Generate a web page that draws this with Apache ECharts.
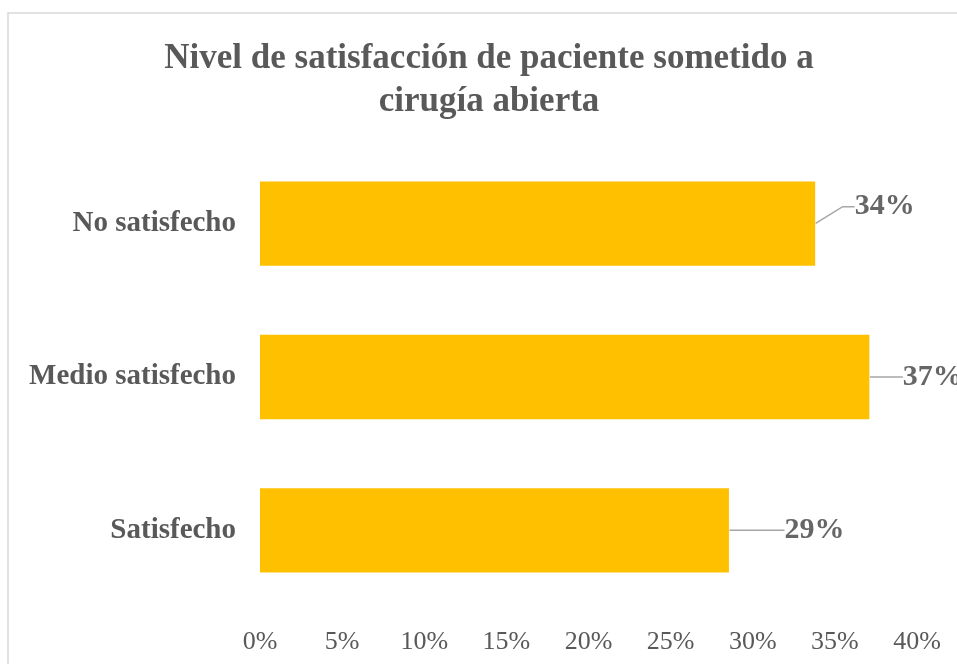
<!DOCTYPE html>
<html>
<head>
<meta charset="utf-8">
<script src="https://cdn.jsdelivr.net/npm/echarts@6/dist/echarts.min.js"></script>
<style>
  html, body { margin: 0; padding: 0; background: #fff; }
  #chart { width: 957px; height: 664px; }
</style>
</head>
<body>
<div id="chart"></div>
<script>
// datos del gráfico
const categories = ["No satisfecho", "Medio satisfecho", "Satisfecho"];
const values = [0.338, 0.371, 0.2855];
const tickMin = 0;
const tickMax = 0.4;
const tickStep = 0.05;

// desplazamiento de las etiquetas (posición, no datos)
const labelShift = [[32, -17], [26, 0], [48, 0]];

const serif = "'Liberation Serif', 'Times New Roman', serif";
const pct = v => Math.round(v * 100) + "%";

const chart = echarts.init(document.getElementById("chart"));
const option = {
  backgroundColor: "#fff",
  animation: false,
  graphic: [
    {
      type: "rect",
      shape: { x: 8, y: 13, width: 1200, height: 900 },
      style: { fill: "none", stroke: "#d9d9d9", lineWidth: 1.5 },
      silent: true
    }
  ],
  title: {
    text: "Nivel de satisfacción de paciente sometido a\ncirugía abierta",
    left: 489,
    top: 37,
    padding: 0,
    textAlign: "center",
    textStyle: {
      fontFamily: serif,
      fontWeight: "bold",
      fontSize: 35,
      lineHeight: 43,
      color: "#595959"
    }
  },
  grid: { left: 260, right: 40, top: 147, bottom: 57, containLabel: false },
  xAxis: {
    type: "value",
    min: tickMin,
    max: tickMax,
    interval: tickStep,
    axisLine: { show: false },
    axisTick: { show: false },
    splitLine: { show: false },
    axisLabel: {
      formatter: pct,
      margin: 22,
      fontFamily: serif,
      fontSize: 26,
      color: "#595959"
    }
  },
  yAxis: {
    type: "category",
    data: categories,
    inverse: true,
    axisLine: { show: false },
    axisTick: { show: false },
    axisLabel: {
      margin: 24,
      fontFamily: serif,
      fontWeight: "bold",
      fontSize: 29,
      color: "#595959"
    }
  },
  series: [
    {
      type: "bar",
      data: values,
      barCategoryGap: "45%",
      itemStyle: { color: "#FFC000" },
      silent: true
    },
    {
      // punto invisible al final de cada barra para las líneas guía
      type: "scatter",
      data: values.map((v, i) => [v, categories[i]]),
      symbol: "circle",
      symbolSize: 1,
      itemStyle: { color: "rgba(0,0,0,0)" },
      silent: true,
      label: {
        show: true,
        position: "right",
        distance: 0,
        padding: [0, 0, 0, 7],
        formatter: p => pct(p.value[0]),
        fontFamily: serif,
        fontWeight: "bold",
        fontSize: 30,
        color: "#404040"
      },
      labelLayout: p => ({ dx: labelShift[p.dataIndex][0], dy: labelShift[p.dataIndex][1] }),
      labelLine: {
        show: true,
        length2: 12,
        lineStyle: { color: "#a6a6a6", width: 1.5 }
      }
    }
  ]
};
chart.setOption(option);
</script>
</body>
</html>
